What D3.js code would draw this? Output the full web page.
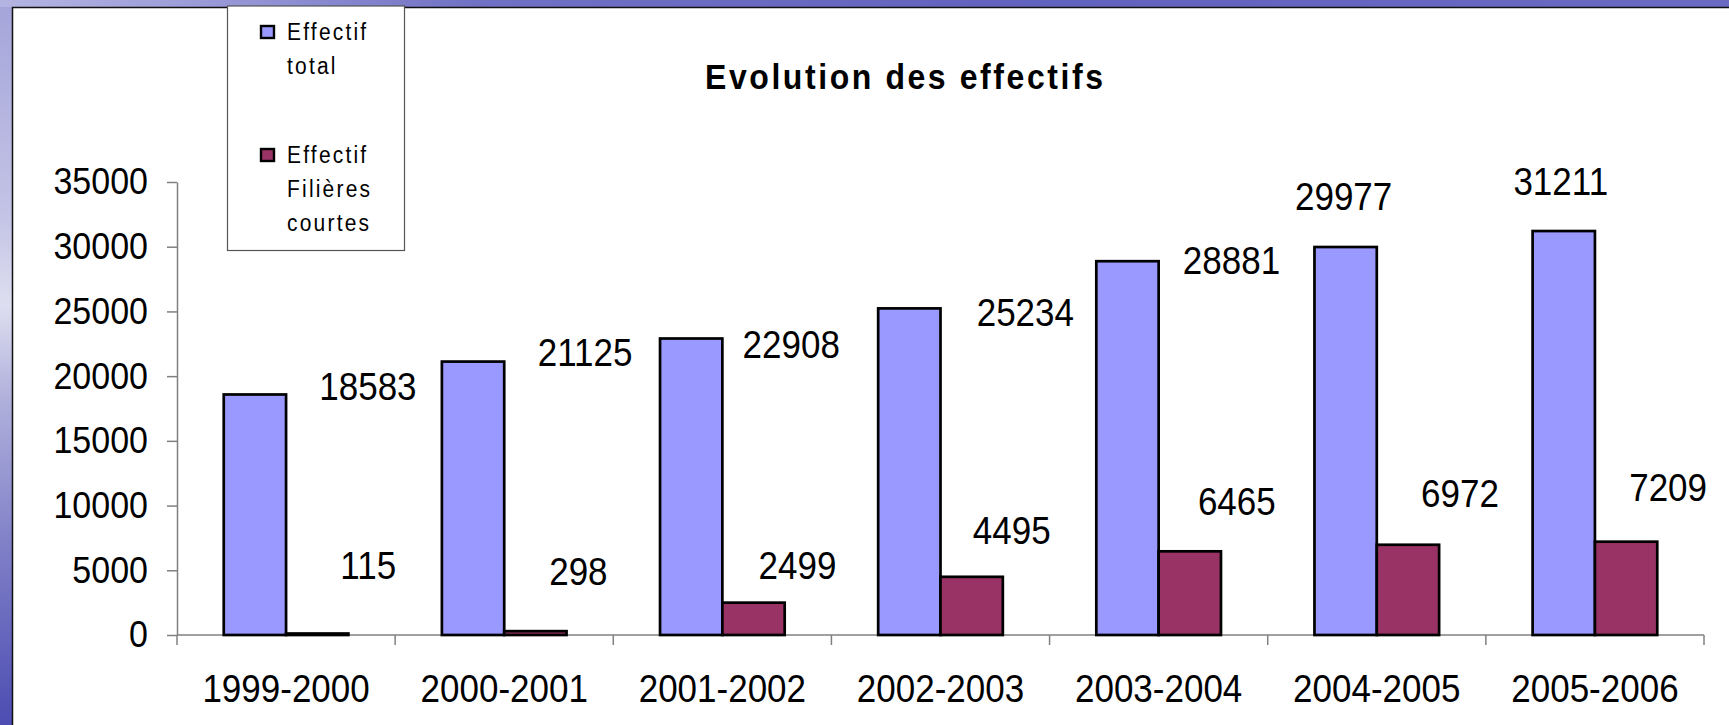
<!DOCTYPE html>
<html>
<head>
<meta charset="utf-8">
<script src="https://cdn.jsdelivr.net/npm/d3@7"></script>
<style>
  html, body { margin: 0; padding: 0; overflow: hidden; background: #fff; }
  text { font-family: "Liberation Sans", Arial, sans-serif; }
</style>
</head>
<body>
<div id="chart"></div>
<script>
// Data
const years = ['1999-2000', '2000-2001', '2001-2002', '2002-2003', '2003-2004', '2004-2005', '2005-2006'];
const effectifTotal = [18583, 21125, 22908, 25234, 28881, 29977, 31211];
const effectifCourtes = [115, 298, 2499, 4495, 6465, 6972, 7209];
const yTicks = [0, 5000, 10000, 15000, 20000, 25000, 30000, 35000];
const legendLines = [['Effectif', 'total'], ['Effectif', 'Filières', 'courtes']];
const chartTitle = 'Evolution des effectifs';

// hand-placed data labels in the original (offset from bar top centre)
const totalLabelShift = [[113, -8], [112, -10], [100, 5], [116, 4], [104, -1], [-2, -51], [-3, -50]];
const courtesLabelShift = [[51, -69], [43, -60], [44, -38], [40, -47], [47, -50], [52, -52], [42, -55]];

const W = 1729, H = 725;
const colTotal = '#9999ff', colCourtes = '#993366';
const stretch = 'scale(1,1.1)';   // text in the source is a bit taller than wide

const svg = d3.select('#chart').append('svg')
  .attr('width', W).attr('height', H)
  .attr('viewBox', `0 0 ${W} ${H}`);

// slide background (left and top strips)
const defs = svg.append('defs');
const gl = defs.append('linearGradient').attr('id', 'bgLeft')
  .attr('x1', 0).attr('y1', 0).attr('x2', 0).attr('y2', 1);
[[0, '#a4a4da'], [0.3, '#c4c4e6'], [0.42, '#dedef0'], [0.55, '#b0b0dc'], [0.75, '#8080c8'], [1, '#4c4cb2']]
  .forEach(([o, c]) => gl.append('stop').attr('offset', o).attr('stop-color', c));
const gt = defs.append('linearGradient').attr('id', 'bgTop')
  .attr('x1', 0).attr('y1', 0).attr('x2', 1).attr('y2', 0);
[[0, '#b4b4e2'], [0.12, '#9a9ad8'], [0.28, '#7070c4'], [0.6, '#6262bf'], [1, '#6a6ac4']]
  .forEach(([o, c]) => gt.append('stop').attr('offset', o).attr('stop-color', c));

svg.append('rect').attr('x', 0).attr('y', 0).attr('width', 13).attr('height', H).attr('fill', 'url(#bgLeft)');
svg.append('rect').attr('x', 0).attr('y', 0).attr('width', W).attr('height', 7).attr('fill', 'url(#bgTop)');
svg.append('rect').attr('x', 13).attr('y', 7).attr('width', W - 13).attr('height', H - 7).attr('fill', '#fff');
svg.append('path').attr('d', `M12.5,${H}V7.5H${W}`)
  .attr('fill', 'none').attr('stroke', '#111').attr('stroke-width', 1.5);

// Scales
const plot = { left: 177, right: 1704, top: 182, bottom: 635 };
const x = d3.scaleBand().domain(years).range([plot.left, plot.right]);
const y = d3.scaleLinear().domain([0, 35000]).range([plot.bottom, plot.top]);
const barW = x.bandwidth() / 3.5;   // gap width 150%
const xTotal = d => x(d) + barW * 0.75;
const xCourtes = d => x(d) + barW * 1.75;

// Y axis
const yAxis = svg.append('g')
  .attr('transform', `translate(${plot.left},0)`)
  .call(d3.axisLeft(y).tickValues(yTicks).tickFormat(d3.format('d'))
    .tickSize(10).tickSizeOuter(0).tickPadding(19));
yAxis.select('.domain').attr('stroke', '#808080').attr('stroke-width', 1.5);
yAxis.selectAll('.tick line').attr('stroke', '#808080').attr('stroke-width', 1.5);
yAxis.selectAll('.tick text')
  .attr('font-size', 34).attr('fill', '#000')
  .attr('font-family', '"Liberation Sans", Arial, sans-serif')
  .attr('transform', stretch);

// X axis
const xAxis = svg.append('g')
  .attr('transform', `translate(0,${plot.bottom})`)
  .call(d3.axisBottom(x).tickSize(0).tickSizeOuter(0).tickPadding(36));
xAxis.select('.domain').remove();
xAxis.selectAll('.tick text')
  .attr('font-size', 35).attr('fill', '#000')
  .attr('font-family', '"Liberation Sans", Arial, sans-serif')
  .attr('transform', stretch);

const bounds = years.map(d => x(d)).concat([x.range()[1]]);
xAxis.append('line')
  .attr('x1', plot.left).attr('x2', plot.right)
  .attr('stroke', '#808080').attr('stroke-width', 1.5);
xAxis.selectAll('line.sep').data(bounds).enter().append('line')
  .attr('class', 'sep')
  .attr('x1', d => d).attr('x2', d => d)
  .attr('y1', 0).attr('y2', 10)
  .attr('stroke', '#808080').attr('stroke-width', 1.5);

// Bars
const bars = svg.append('g');
bars.selectAll('rect.total').data(years).enter().append('rect')
  .attr('class', 'total')
  .attr('x', d => xTotal(d))
  .attr('y', (d, i) => y(effectifTotal[i]))
  .attr('width', barW)
  .attr('height', (d, i) => y(0) - y(effectifTotal[i]))
  .attr('fill', colTotal).attr('stroke', '#000').attr('stroke-width', 2.7);
bars.selectAll('rect.courtes').data(years).enter().append('rect')
  .attr('class', 'courtes')
  .attr('x', d => xCourtes(d))
  .attr('y', (d, i) => y(effectifCourtes[i]))
  .attr('width', barW)
  .attr('height', (d, i) => y(0) - y(effectifCourtes[i]))
  .attr('fill', colCourtes).attr('stroke', '#000').attr('stroke-width', 2.7);

// Data labels
function addLabels(values, xFn, shift) {
  svg.append('g').selectAll('text').data(years).enter().append('text')
    .attr('transform', (d, i) => {
      const cx = xFn(d) + barW / 2 + shift[i][0];
      const cy = y(values[i]) + shift[i][1] + 14;
      return `translate(${cx},${cy}) ${stretch}`;
    })
    .attr('text-anchor', 'middle')
    .attr('font-size', 35)
    .attr('fill', '#000')
    .text((d, i) => values[i]);
}
addLabels(effectifTotal, xTotal, totalLabelShift);
addLabels(effectifCourtes, xCourtes, courtesLabelShift);

// Title
svg.append('text')
  .attr('transform', `translate(904,89) ${stretch}`)
  .attr('text-anchor', 'middle')
  .attr('font-size', 32)
  .attr('font-weight', 'bold')
  .attr('textLength', 398)
  .attr('lengthAdjust', 'spacing')
  .text(chartTitle);

// Legend
const legend = svg.append('g');
legend.append('rect')
  .attr('x', 227.5).attr('y', 6).attr('width', 177).attr('height', 244.5)
  .attr('fill', '#fff').attr('stroke', '#555').attr('stroke-width', 1.2);
const legendTop = [40, 163];
[colTotal, colCourtes].forEach((c, k) => {
  legend.append('rect')
    .attr('x', 261).attr('y', legendTop[k] - 14)
    .attr('width', 13).attr('height', 12)
    .attr('fill', c).attr('stroke', '#000').attr('stroke-width', 2.4);
  legendLines[k].forEach((line, j) => {
    legend.append('text')
      .attr('transform', `translate(287,${legendTop[k] + j * 34}) ${stretch}`)
      .attr('font-size', 21)
      .attr('letter-spacing', 2.2)
      .attr('fill', '#000')
      .text(line);
  });
});
</script>
</body>
</html>
